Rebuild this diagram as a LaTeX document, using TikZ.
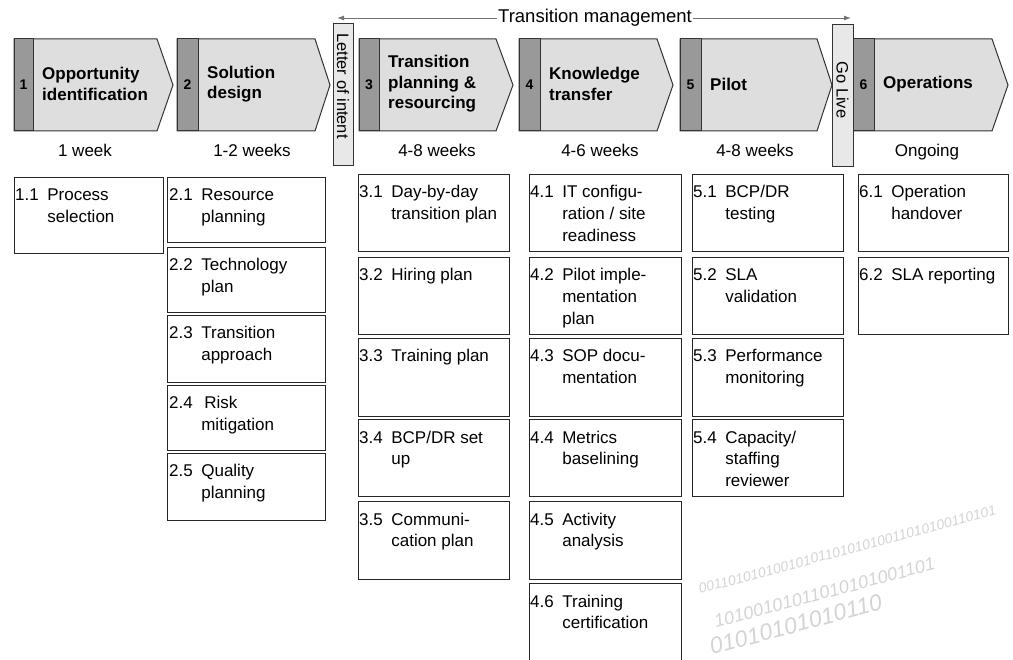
\documentclass[tikz,border=0pt]{standalone}
\usepackage{fontspec}
\setmainfont{Liberation Sans}
\usetikzlibrary{arrows.meta}

% number, then the activity text hanging beside it
\newcommand{\tasklabel}[2]{\begin{tabular}[t]{@{}l@{\hspace{0.5em}}l@{}}#1&\begin{tabular}[t]{@{}l@{}}#2\end{tabular}\end{tabular}}

\begin{document}
\begin{tikzpicture}[x=1pt,y=-1pt,>={Latex[length=7pt,width=5pt]},
  phase/.style={draw=black!80, line width=1pt, fill=black!13},
  strip/.style={draw=black!80, line width=1pt, fill=black!40},
  pnum/.style={font=\bfseries\fontsize{14}{16}\selectfont, inner sep=0pt},
  ptitle/.style={anchor=west, align=left, inner sep=0pt, font=\bfseries\fontsize{17}{20.5}\selectfont},
  weeks/.style={anchor=base, font=\fontsize{17}{20}\selectfont},
  gate/.style={draw=black!80, line width=1pt, fill=black!9, inner sep=0pt},
  gatetext/.style={rotate=-90, inner sep=0pt, font=\fontsize{16.5}{20}\selectfont},
  taskbox/.style={draw=black!85, line width=1.1pt, anchor=north west, inner sep=0pt},
  tasktext/.style={anchor=base west, inner sep=0pt, font=\fontsize{17}{21.7}\selectfont},
  wmark/.style={anchor=base west, text=black!17, inner sep=0pt, rotate=15}]
\useasboundingbox (0,0) rectangle (1013,660);

% faint binary texture behind the lower right
\node[wmark, font=\itshape\fontsize{14}{14}\selectfont] (wm1) at (700,594) {0011010101001010110101010011010100110101};
\node[wmark, font=\itshape\fontsize{18}{18}\selectfont] (wm2) at (716,628) {10100101011010101001101};
\node[wmark, font=\itshape\fontsize{23}{23}\selectfont] (wm3) at (712,655) {01010101010110};

% phases
\foreach \l/\s/\r/\t/\n/\ttl [count=\i] in {
  14/33/157/173/1/{Opportunity\\identification},
  177/198/315/330/2/{Solution\\design},
  359/379/496/513/3/{Transition\\planning \&\\resourcing},
  519/540/657/673/4/{Knowledge\\transfer},
  680/701/817/832/5/{Pilot},
  853/874/992/1008/6/{Operations}}{
  \draw[phase] (\l,39) -- (\r,39) -- (\t,85) -- (\r,131) -- (\l,131) -- cycle;
  \draw[strip] (\l,39) rectangle (\s,131);
  \node[pnum] (n\i) at ({(\l+\s)/2},85) {\n};
  \node[ptitle] (p\i) at (\s+9,84) {\ttl};
}

% durations
\foreach \x/\d [count=\i] in {85/1 week, 252/1-2 weeks, 437/4-8 weeks,
  600/4-6 weeks, 755/4-8 weeks, 927/Ongoing}
  \node[weeks] (d\i) at (\x,157) {\d};

% milestones
\node[gate, minimum width=20pt, minimum height=142pt] (loi) at (343,95) {};
\node[gatetext] (loi-t) at (343,86) {Letter of intent};
\node[gate, minimum width=21pt, minimum height=142pt] (golive) at (842.5,96) {};
\node[gatetext] (golive-t) at (842.5,90) {Go Live};

% span of transition management
\coordinate (tmL) at (337,18);
\coordinate (tmR) at (851,18);
\draw[<->, black!55, line width=0.9pt] (tmL) -- (tmR);
\node[fill=white, inner sep=1pt, font=\fontsize{18.5}{20}\selectfont] (tm) at (595,18) {Transition management};

% activities, one column per phase
\foreach \y/\h/\num/\txt [count=\i] in {177/76/1.1/{Process\\selection}}{
  \node[taskbox, minimum width=149pt, minimum height=\h pt] (c1-\i) at (14,\y) {};
  \node[tasktext] (c1-\i-t) at ([shift={(1pt,-24pt)}]c1-\i.north west) {\tasklabel{\num}{\txt}};
}
\foreach \y/\h/\num/\txt [count=\i] in {177/65/2.1/{Resource\\planning},
  247/65/2.2/{Technology\\plan}, 315/67/2.3/{Transition\\approach},
  385/65/2.4/{\hspace{3pt}Risk\\mitigation}, 453/67/2.5/{Quality\\planning}}{
  \node[taskbox, minimum width=158pt, minimum height=\h pt] (c2-\i) at (167,\y) {};
  \node[tasktext] (c2-\i-t) at ([shift={(2pt,-24pt)}]c2-\i.north west) {\tasklabel{\num}{\txt}};
}
\foreach \y/\h/\num/\txt [count=\i] in {174/77/3.1/{Day-by-day\\transition plan},
  257/77/3.2/{Hiring plan}, 338/78/3.3/{Training plan},
  419/77/3.4/{BCP/DR set\\up}, 501/78/3.5/{Communi-\\cation plan}}{
  \node[taskbox, minimum width=151pt, minimum height=\h pt] (c3-\i) at (358,\y) {};
  \node[tasktext] (c3-\i-t) at ([shift={(1pt,-24pt)}]c3-\i.north west) {\tasklabel{\num}{\txt}};
}
\foreach \y/\h/\num/\txt [count=\i] in {174/77/4.1/{IT configu-\\ration / site\\readiness},
  257/77/4.2/{Pilot imple-\\mentation\\plan}, 338/78/4.3/{SOP docu-\\mentation},
  419/77/4.4/{Metrics\\baselining}, 501/78/4.5/{Activity\\analysis},
  583/77/4.6/{Training\\certification}}{
  \node[taskbox, minimum width=152pt, minimum height=\h pt] (c4-\i) at (529,\y) {};
  \node[tasktext] (c4-\i-t) at ([shift={(1pt,-24pt)}]c4-\i.north west) {\tasklabel{\num}{\txt}};
}
\foreach \y/\h/\num/\txt [count=\i] in {174/77/5.1/{BCP/DR\\testing},
  257/77/5.2/{SLA\\validation}, 338/78/5.3/{Performance\\monitoring},
  419/77/5.4/{Capacity/\\staffing\\reviewer}}{
  \node[taskbox, minimum width=151pt, minimum height=\h pt] (c5-\i) at (692,\y) {};
  \node[tasktext] (c5-\i-t) at ([shift={(1pt,-24pt)}]c5-\i.north west) {\tasklabel{\num}{\txt}};
}
\foreach \y/\h/\num/\txt [count=\i] in {174/77/6.1/{Operation\\handover},
  257/77/6.2/{SLA reporting}}{
  \node[taskbox, minimum width=150pt, minimum height=\h pt] (c6-\i) at (858,\y) {};
  \node[tasktext] (c6-\i-t) at ([shift={(1pt,-24pt)}]c6-\i.north west) {\tasklabel{\num}{\txt}};
}
\end{tikzpicture}
\end{document}
